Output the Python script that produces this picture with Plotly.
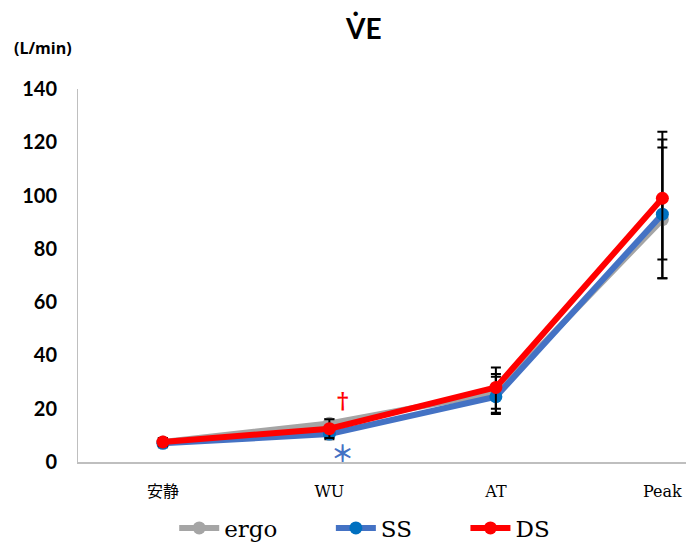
import plotly.graph_objects as go

categories = ["安静", "WU", "AT", "Peak"]
series_names = ["ergo", "SS", "DS"]
ergo = [7.5, 14.5, 26, 91]
ss = [7, 10.5, 24.5, 93]
ds = [7.5, 12.5, 28, 99]
ergo_err_plus = [1.5, 1.5, 7, 30]
ergo_err_minus = [1.5, 4, 8, 22]
ss_err_plus = [1.5, 3, 7.5, 25]
ss_err_minus = [1.5, 2, 6, 24]
ds_err_plus = [1.5, 3.5, 7.5, 25]
ds_err_minus = [1.5, 3.5, 8, 23]
y_ticks = [0, 20, 40, 60, 80, 100, 120, 140]

fig = go.Figure()

pad = "\u00a0" * 6 + "\u2009"
specs = [
    (series_names[0], ergo, ergo_err_plus, ergo_err_minus, "#A5A5A5", "#A5A5A5", pad),
    (series_names[1], ss, ss_err_plus, ss_err_minus, "#4472C4", "#0070C0", pad),
    (series_names[2], ds, ds_err_plus, ds_err_minus, "#FF0000", "#FF0000", ""),
]
for name, vals, ep, em, lc, mc, p in specs:
    fig.add_trace(go.Scatter(
        x=categories, y=vals, name=name + p, mode="lines+markers",
        line=dict(color=lc, width=6),
        marker=dict(color=mc, size=13),
        error_y=dict(type="data", array=ep, arrayminus=em, symmetric=False,
                     color="black", thickness=2, width=5),
    ))

fig.add_annotation(x=1.08, y=23.3, xref="x", yref="y", text="<b>†</b>", showarrow=False,
                   font=dict(color="#FF0000", size=22, family="DejaVu Serif"))
fig.add_annotation(x=1.08, y=3.8, xref="x", yref="y", text="<b>＊</b>", showarrow=False,
                   font=dict(color="#4472C4", size=23, family="Noto Sans CJK JP"))

fig.add_annotation(x=0.464, y=1.163, xref="paper", yref="paper",
                   xanchor="center", yanchor="middle",
                   text="<b>V̇E</b>", showarrow=False,
                   font=dict(size=28, color="black", family="Lato"))
fig.add_annotation(x=-0.057, y=1.11, xref="paper", yref="paper",
                   xanchor="center", yanchor="middle",
                   text="<b>(L/min)</b>", showarrow=False,
                   font=dict(size=16, color="black", family="Open Sans"))

fig.update_layout(
    width=686, height=540,
    margin=dict(l=70, r=0, t=81, b=86, autoexpand=False),
    plot_bgcolor="white", paper_bgcolor="white",
    showlegend=True,
    legend=dict(orientation="h", x=0.52, xanchor="center", xref="container",
                y=0.037, yanchor="middle", yref="container",
                font=dict(family="DejaVu Serif", size=23, color="black"),
                itemwidth=40),
    xaxis=dict(type="category", range=[-0.51, 3.19], showgrid=False, automargin=False,
               showline=True, linecolor="#BFBFBF", linewidth=1.5,
               ticks="", ticklabelstandoff=14,
               tickfont=dict(family="DejaVu Serif, Noto Sans CJK JP", size=16, color="black")),
    yaxis=dict(range=[0, 140], tickvals=y_ticks, showgrid=False, zeroline=False,
               automargin=False,
               showline=True, linecolor="#BFBFBF", linewidth=1,
               ticks="", ticklabelstandoff=16,
               tickfont=dict(family="Lato", size=20, color="black", weight="bold")),
)

fig.write_html("out.html")
